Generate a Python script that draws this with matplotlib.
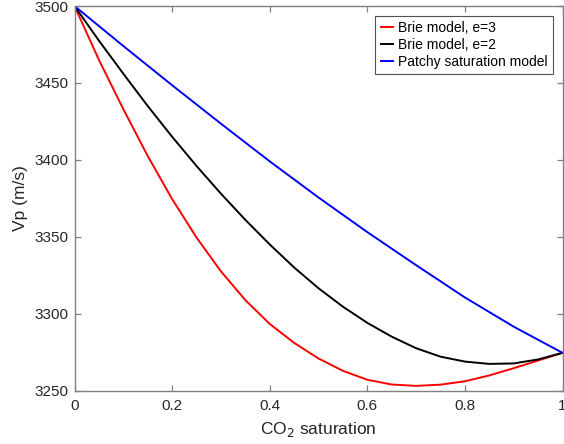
import matplotlib
matplotlib.use("Agg")
import matplotlib.pyplot as plt

plt.rcParams['font.family'] = ['Liberation Sans', 'DejaVu Sans']

# CO2 saturation / Vp (m/s) readings
sat_red = [0.0, 0.05, 0.1, 0.15, 0.2, 0.25, 0.3, 0.35, 0.4, 0.45, 0.5, 0.55, 0.6, 0.65, 0.7, 0.75, 0.8, 0.85, 0.9, 0.95, 1.0]
vp_red = [3500, 3465, 3433, 3402.5, 3374.5, 3349.5, 3327.5, 3308.8, 3293.3, 3281, 3270.8, 3262.8, 3257, 3253.9, 3253, 3253.8, 3256, 3259.8, 3264.5, 3269.5, 3274.5]

sat_black = [0.0, 0.05, 0.1, 0.15, 0.2, 0.25, 0.3, 0.35, 0.4, 0.45, 0.5, 0.55, 0.6, 0.65, 0.7, 0.75, 0.8, 0.85, 0.9, 0.95, 1.0]
vp_black = [3500, 3477.5, 3456, 3435, 3415, 3396, 3378, 3361, 3345, 3330, 3316.5, 3304.5, 3294, 3285, 3277.5, 3272, 3268.8, 3267.3, 3267.6, 3270.2, 3274.5]

sat_blue = [0.0, 0.1, 0.2, 0.3, 0.4, 0.5, 0.6, 0.7, 0.8, 0.9, 1.0]
vp_blue = [3500, 3474, 3448.5, 3423.5, 3399, 3375.5, 3353, 3331.5, 3310.5, 3291.5, 3274.5]

labels = ['Brie model, e=3', 'Brie model, e=2', 'Patchy saturation model']
xticks = [0, 0.2, 0.4, 0.6, 0.8, 1]
xticklabels = ['0', '0.2', '0.4', '0.6', '0.8', '1']
yticks = [3250, 3300, 3350, 3400, 3450, 3500]

fig = plt.figure(figsize=(5.64, 4.44), dpi=100)
ax = fig.add_axes([74.5/564, 53.5/444, 488/564, 384.5/444])

ax.plot(sat_red, vp_red, color='red', lw=1.4, label=labels[0])
ax.plot(sat_black, vp_black, color='black', lw=1.4, label=labels[1])
ax.plot(sat_blue, vp_blue, color='blue', lw=1.4, label=labels[2])

ax.set_xlim(0, 1)
ax.set_ylim(3250, 3500)
ax.set_xticks(xticks)
ax.set_xticklabels(xticklabels)
ax.set_yticks(yticks)
ax.tick_params(direction='in', top=True, right=True, length=4.5, width=0.9,
               colors='#808080', labelcolor='#262626', labelsize=11, pad=4)
ax.tick_params(axis='x', pad=6)
for s in ax.spines.values():
    s.set_color('#808080')
    s.set_linewidth(1.0)

ax.set_xlabel('CO$_2$ saturation', fontsize=12.5, color='#262626', labelpad=5)
ax.set_ylabel('Vp (m/s)', fontsize=12.5, color='#262626', labelpad=5)

leg = ax.legend(loc='upper right', fontsize=10, frameon=True, fancybox=False,
                edgecolor='#262626', handlelength=0.9, handletextpad=0.3,
                borderpad=0.4, labelspacing=0.2, borderaxespad=0.7)
leg.get_frame().set_linewidth(0.8)

fig.savefig('out.png', dpi=100)
